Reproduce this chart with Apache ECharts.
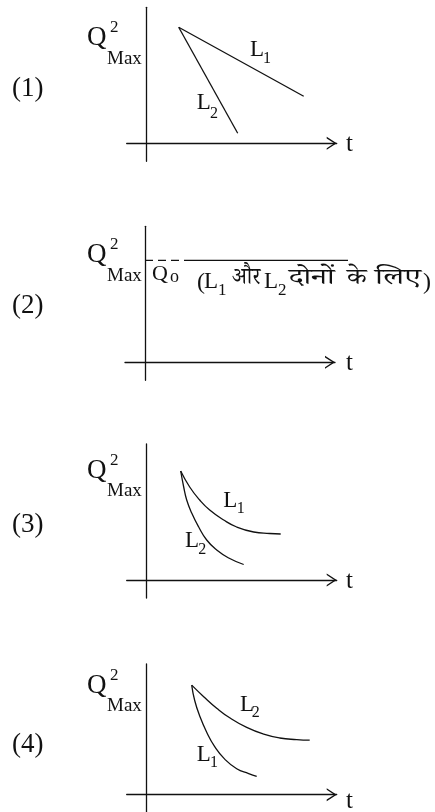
<!DOCTYPE html>
<html><head><meta charset="utf-8">
<script src="https://cdn.jsdelivr.net/npm/echarts@6/dist/echarts.min.js"></script>
<style>html,body{margin:0;padding:0;background:#fff}#c{width:435px;height:812px}</style>
</head><body><div id="c"></div><script>
// ---- data (t, Q^2_Max) in arbitrary units ----
const panelLabels = ['(1)', '(2)', '(3)', '(4)'];
const p1L1 = [[3.2, 11.6], [15.7, 4.7]];
const p1L2 = [[3.2, 11.6], [9.1, 1.0]];
const p2Dash = [[0, 10.2], [4.7, 10.2]];
const p2Solid = [[4.7, 10.2], [20.3, 10.2]];
const p3L1 = [[3.4, 10.9], [4.3, 9.3], [5.3, 8.0], [6.3, 7.0], [7.7, 6.0], [9.0, 5.3], [10.7, 4.8], [12.3, 4.65], [13.4, 4.6]];
const p3L2 = [[3.4, 10.9], [3.7, 9.3], [4.0, 8.0], [4.5, 6.7], [5.2, 5.3], [6.0, 4.0], [7.0, 3.0], [8.2, 2.2], [9.7, 1.55]];
const p4L2 = [[4.5, 11.4], [5.7, 10.2], [7.0, 9.0], [8.3, 8.0], [10.0, 7.0], [11.7, 6.3], [13.3, 5.9], [15.0, 5.73], [16.3, 5.67]];
const p4L1 = [[4.5, 11.4], [4.8, 9.8], [5.3, 8.2], [6.0, 6.5], [6.8, 5.0], [7.8, 3.7], [9.0, 2.7], [10.2, 2.2], [11.0, 1.9]];
const tRange = [-2, 19];
const tRangeWide = [-2, 21];
const qRange = [-1.8, 13.6];

// ---- layout ----
const originX = [146.7, 145, 146.7, 146.7];
const originY = [143.3, 362.3, 580, 800];
const INK = '#111';
const FONT = '"Liberation Serif", serif';
const DEVA = '"Noto Serif Devanagari", "Noto Sans Devanagari", "Liberation Serif", serif';
const chevron = 'path://M0,100 L65,0 L130,100 L114,100 L65,24.6 L16,100 Z';
const hidden = { show: false };

const grids = [], xAxes = [], yAxes = [];
for (let i = 0; i < 4; i++) {
  grids.push({ left: originX[i] - 20, top: originY[i] - 136, width: 210, height: 154 });
  xAxes.push({
    gridIndex: i, type: 'value', min: tRange[0], max: tRange[1],
    axisLine: { show: true, onZero: true, lineStyle: { color: INK, width: 1.3 },
      symbol: ['none', chevron], symbolSize: [13, 10], symbolOffset: [0, -5] },
    axisTick: hidden, axisLabel: hidden, splitLine: hidden
  });
  yAxes.push({
    gridIndex: i, type: 'value', min: qRange[0], max: qRange[1],
    axisLine: { show: true, onZero: true, lineStyle: { color: INK, width: 1.3 } },
    axisTick: hidden, axisLabel: hidden, splitLine: hidden
  });
}
// extra invisible frame over panel 2 (same scale, wider) so the Q0 line can run past the arrow
grids.push({ left: originX[1] - 20, top: originY[1] - 136, width: 230, height: 154 });
xAxes.push({ gridIndex: 4, type: 'value', min: tRangeWide[0], max: tRangeWide[1],
  axisLine: hidden, axisTick: hidden, axisLabel: hidden, splitLine: hidden });
yAxes.push({ gridIndex: 4, type: 'value', min: qRange[0], max: qRange[1],
  axisLine: hidden, axisTick: hidden, axisLabel: hidden, splitLine: hidden });

function ser(i, data, opts) {
  return Object.assign({
    type: 'line', xAxisIndex: i, yAxisIndex: i, data: data,
    showSymbol: false, silent: true, animation: false,
    lineStyle: { color: INK, width: 1.3 }
  }, opts || {});
}
const series = [
  ser(0, p1L1), ser(0, p1L2),
  ser(4, p2Dash, { lineStyle: { color: INK, width: 1.3, type: [8, 5] } }), ser(4, p2Solid),
  ser(2, p3L1, { smooth: true }), ser(2, p3L2, { smooth: true }),
  ser(3, p4L2, { smooth: true }), ser(3, p4L1, { smooth: true })
];

// ---- text ----
function T(text, x, y, size, fam, sx) {
  return { type: 'text', x: x, y: y, scaleX: sx || 1, silent: true,
    style: { text: text, fill: INK, font: size + 'px ' + (fam || FONT), textAlign: 'left', textVerticalAlign: 'middle' } };
}
const texts = [];
const qMid = [38, 255, 470.5, 685.5];
const numY = [89, 306, 525, 745];
for (let i = 0; i < 4; i++) {
  texts.push(T(panelLabels[i], 12, numY[i], 27));
  texts.push(T('Q', 87, qMid[i], 27));
  texts.push(T('2', 110, qMid[i] - 10, 17));
  texts.push(T('Max', 107, qMid[i] + 21, 19));
  texts.push(T('t', 346, originY[i] + 1.5, 25));
}
// panel 1
texts.push(T('L', 250, 50, 23), T('1', 263, 58.5, 16));
texts.push(T('L', 196.7, 103, 23), T('2', 210, 113.5, 16));
// panel 2
texts.push(T('Q', 152, 274.5, 22), T('o', 170, 277, 18));
texts.push(T('(', 197, 283, 24), T('L', 204, 282, 23), T('1', 218, 291, 17),
  T('और', 232, 282, 24, DEVA, 0.9),
  T('L', 264, 282, 23), T('2', 278, 291, 17),
  T('दोनों', 289, 282, 23, DEVA, 1.35), T('के', 347, 282, 23, DEVA, 1.2), T('लिए', 375, 282, 23, DEVA, 1.4),
  T(')', 423, 283, 24));
// panel 3
texts.push(T('L', 223.3, 500.5, 23), T('1', 236.7, 509, 16));
texts.push(T('L', 185, 540.5, 23), T('2', 198.3, 550, 16));
// panel 4
texts.push(T('L', 240, 705, 23), T('2', 251.7, 713, 16));
texts.push(T('L', 196.7, 754.5, 23), T('1', 210, 763, 16));

const chart = echarts.init(document.getElementById('c'), null, { renderer: 'canvas' });
chart.setOption({
  backgroundColor: '#fff', animation: false,
  grid: grids, xAxis: xAxes, yAxis: yAxes, series: series,
  graphic: texts
});
</script></body></html>
